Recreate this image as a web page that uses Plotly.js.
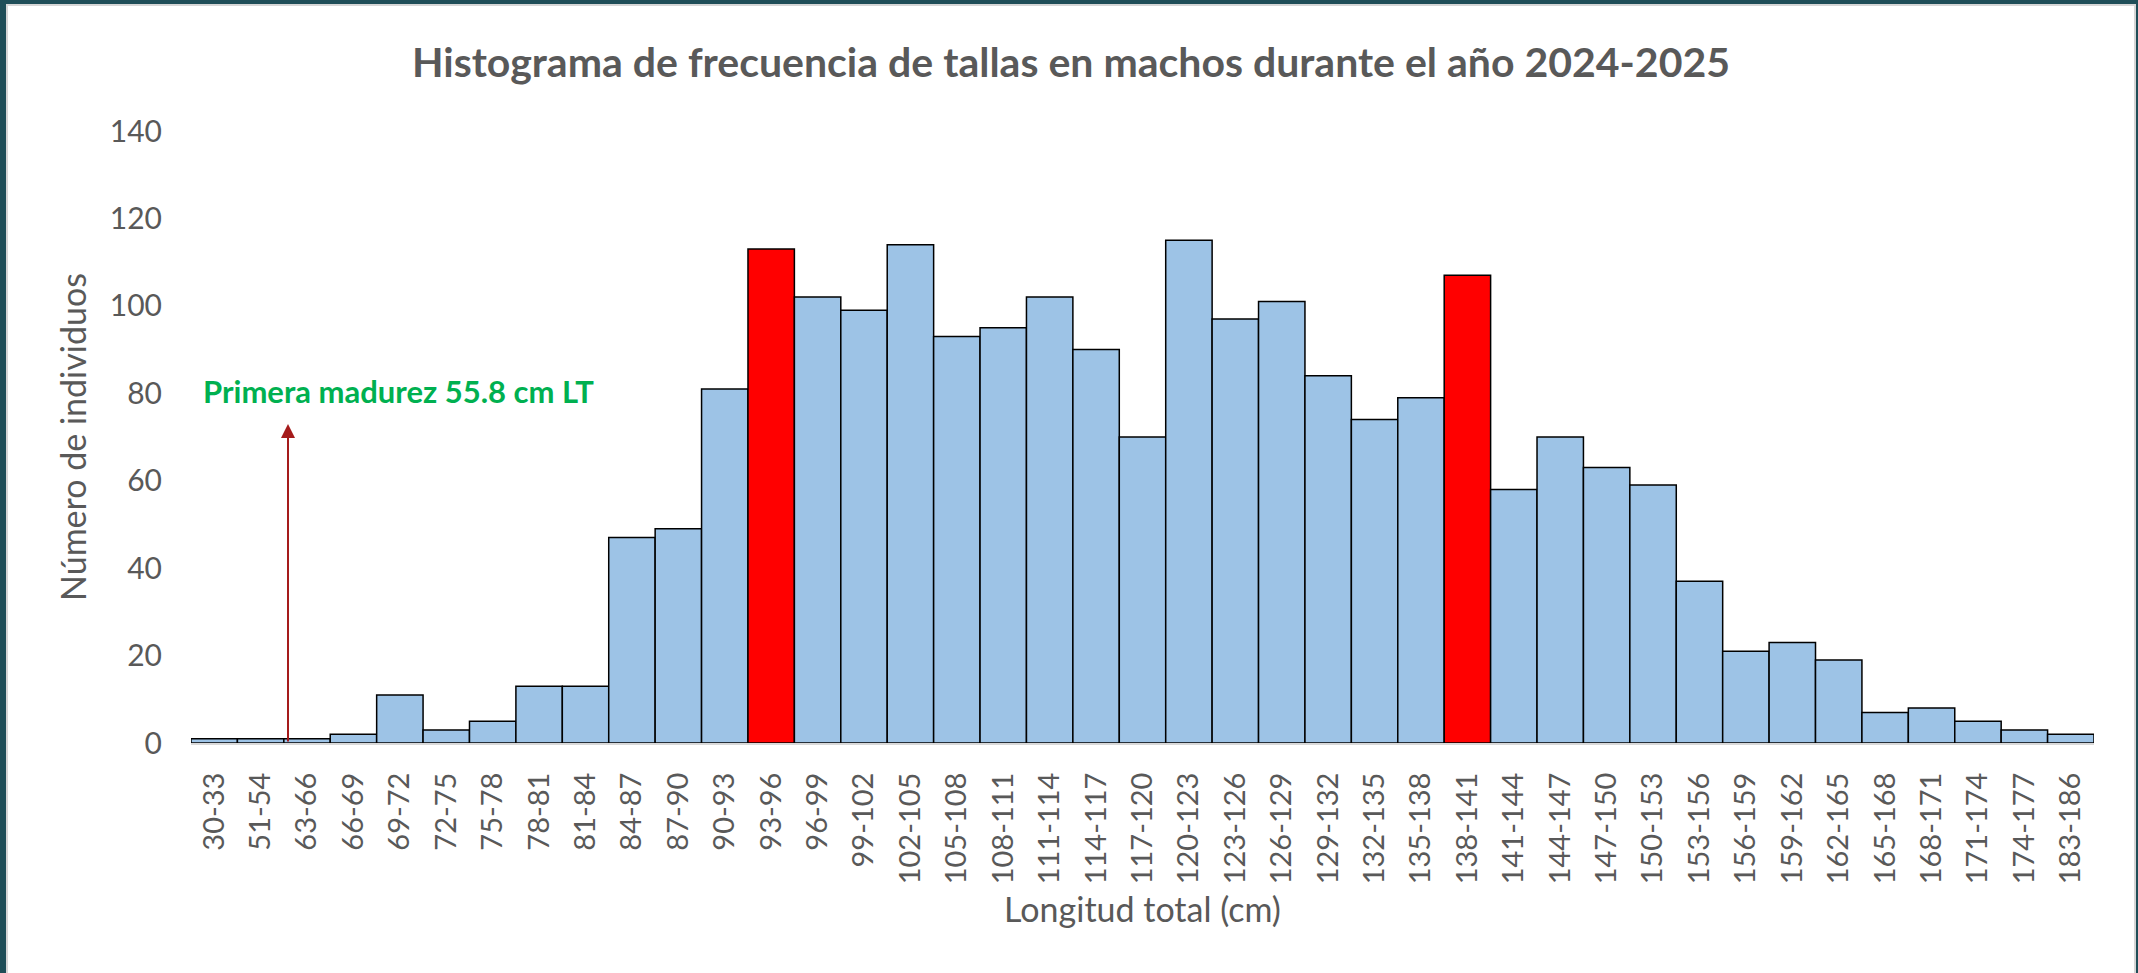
<!DOCTYPE html>
<html>
<head>
<meta charset="utf-8">
<script src="https://cdn.plot.ly/plotly-3.0.1.min.js"></script>
<style>
  html, body { margin: 0; padding: 0; width: 2138px; height: 973px; overflow: hidden; background: #1f4e58; }
  #frame { position: absolute; left: 6px; top: 4px; width: 2126px; height: 969px; background: #ffffff;
           border-left: 2px solid #d6d6d6; border-top: 2px solid #d6d6d6; border-right: 2px solid #d6d6d6; }
  #chart { width: 2126px; height: 967px; }
</style>
</head>
<body>
<div id="frame"><div id="chart"></div></div>
<script>
// ---- data ----
const categories = ["30-33","51-54","63-66","66-69","69-72","72-75","75-78","78-81","81-84","84-87",
  "87-90","90-93","93-96","96-99","99-102","102-105","105-108","108-111","111-114","114-117",
  "117-120","120-123","123-126","126-129","129-132","132-135","135-138","138-141","141-144","144-147",
  "147-150","150-153","153-156","156-159","159-162","162-165","165-168","168-171","171-174","174-177","183-186"];
const counts = [1,1,1,2,11,3,5,13,13,47,
  49,81,113,102,99,114,93,95,102,90,
  70,115,97,101,84,74,79,107,58,70,
  63,59,37,21,23,19,7,8,5,3,2];
const highlighted = ["93-96","138-141"];
const yTicks = [0,20,40,60,80,100,120,140];
const maturityLabel = "Primera madurez 55.8 cm LT";
const maturityArrowX = [1.59];   // category-axis position of the arrow
const maturityArrowTop = [73];
const maturityLabelPos = [3.98, 80.5];

const barColors = categories.map(c => highlighted.includes(c) ? "#ff0000" : "#9dc3e6");

const trace = {
  type: "bar",
  x: categories,
  y: counts,
  marker: { color: barColors, line: { color: "#000000", width: 1.5 } },
  hoverinfo: "x+y"
};

const grey = "#595959";
const layout = {
  width: 2126, height: 967,
  margin: { l: 183, r: 40, t: 125, b: 230 },
  paper_bgcolor: "#ffffff",
  plot_bgcolor: "#ffffff",
  showlegend: false,
  bargap: 0,
  title: {
    text: "Histograma de frecuencia de tallas en machos durante el año 2024-2025",
    font: { family: "Lato, 'Open Sans', sans-serif", size: 41, color: grey, weight: 700 },
    x: 0.5, xref: "container", xanchor: "center",
    y: 0.941, yref: "container", yanchor: "middle"
  },
  xaxis: {
    type: "category",
    tickmode: "array", tickvals: categories, ticktext: categories,
    tickangle: -90,
    tickfont: { family: "Lato, sans-serif", size: 29, color: grey },
    ticks: "", ticklabelstandoff: 16,
    showline: true, linecolor: "#d9d9d9", linewidth: 2,
    showgrid: false, zeroline: false,
    range: [-0.5, categories.length - 0.5],
    title: { text: "Longitud total (cm)", font: { family: "Lato, sans-serif", size: 34, color: grey }, standoff: 15 }
  },
  yaxis: {
    range: [0, 140],
    tickmode: "array", tickvals: yTicks, ticktext: yTicks.map(String),
    tickfont: { family: "Lato, sans-serif", size: 30, color: grey },
    ticks: "", ticklabelstandoff: 28,
    showline: false, showgrid: false, zeroline: false,
    title: { text: "Número de individuos", font: { family: "Lato, sans-serif", size: 34, color: grey }, standoff: 12 }
  },
  annotations: [
    {
      x: maturityArrowX[0], y: maturityArrowTop[0], xref: "x", yref: "y",
      ax: maturityArrowX[0], ay: 0, axref: "x", ayref: "y",
      text: "", showarrow: true, arrowhead: 2, arrowsize: 1.4, arrowwidth: 2, arrowcolor: "#a51b1b"
    },
    {
      x: maturityLabelPos[0], y: maturityLabelPos[1], xref: "x", yref: "y",
      text: maturityLabel, showarrow: false, xanchor: "center", yanchor: "middle",
      font: { family: "Lato, sans-serif", size: 31, color: "#00b050", weight: 700 }
    }
  ]
};

Plotly.newPlot("chart", [trace], layout, { displayModeBar: false, staticPlot: true });
</script>
</body>
</html>
